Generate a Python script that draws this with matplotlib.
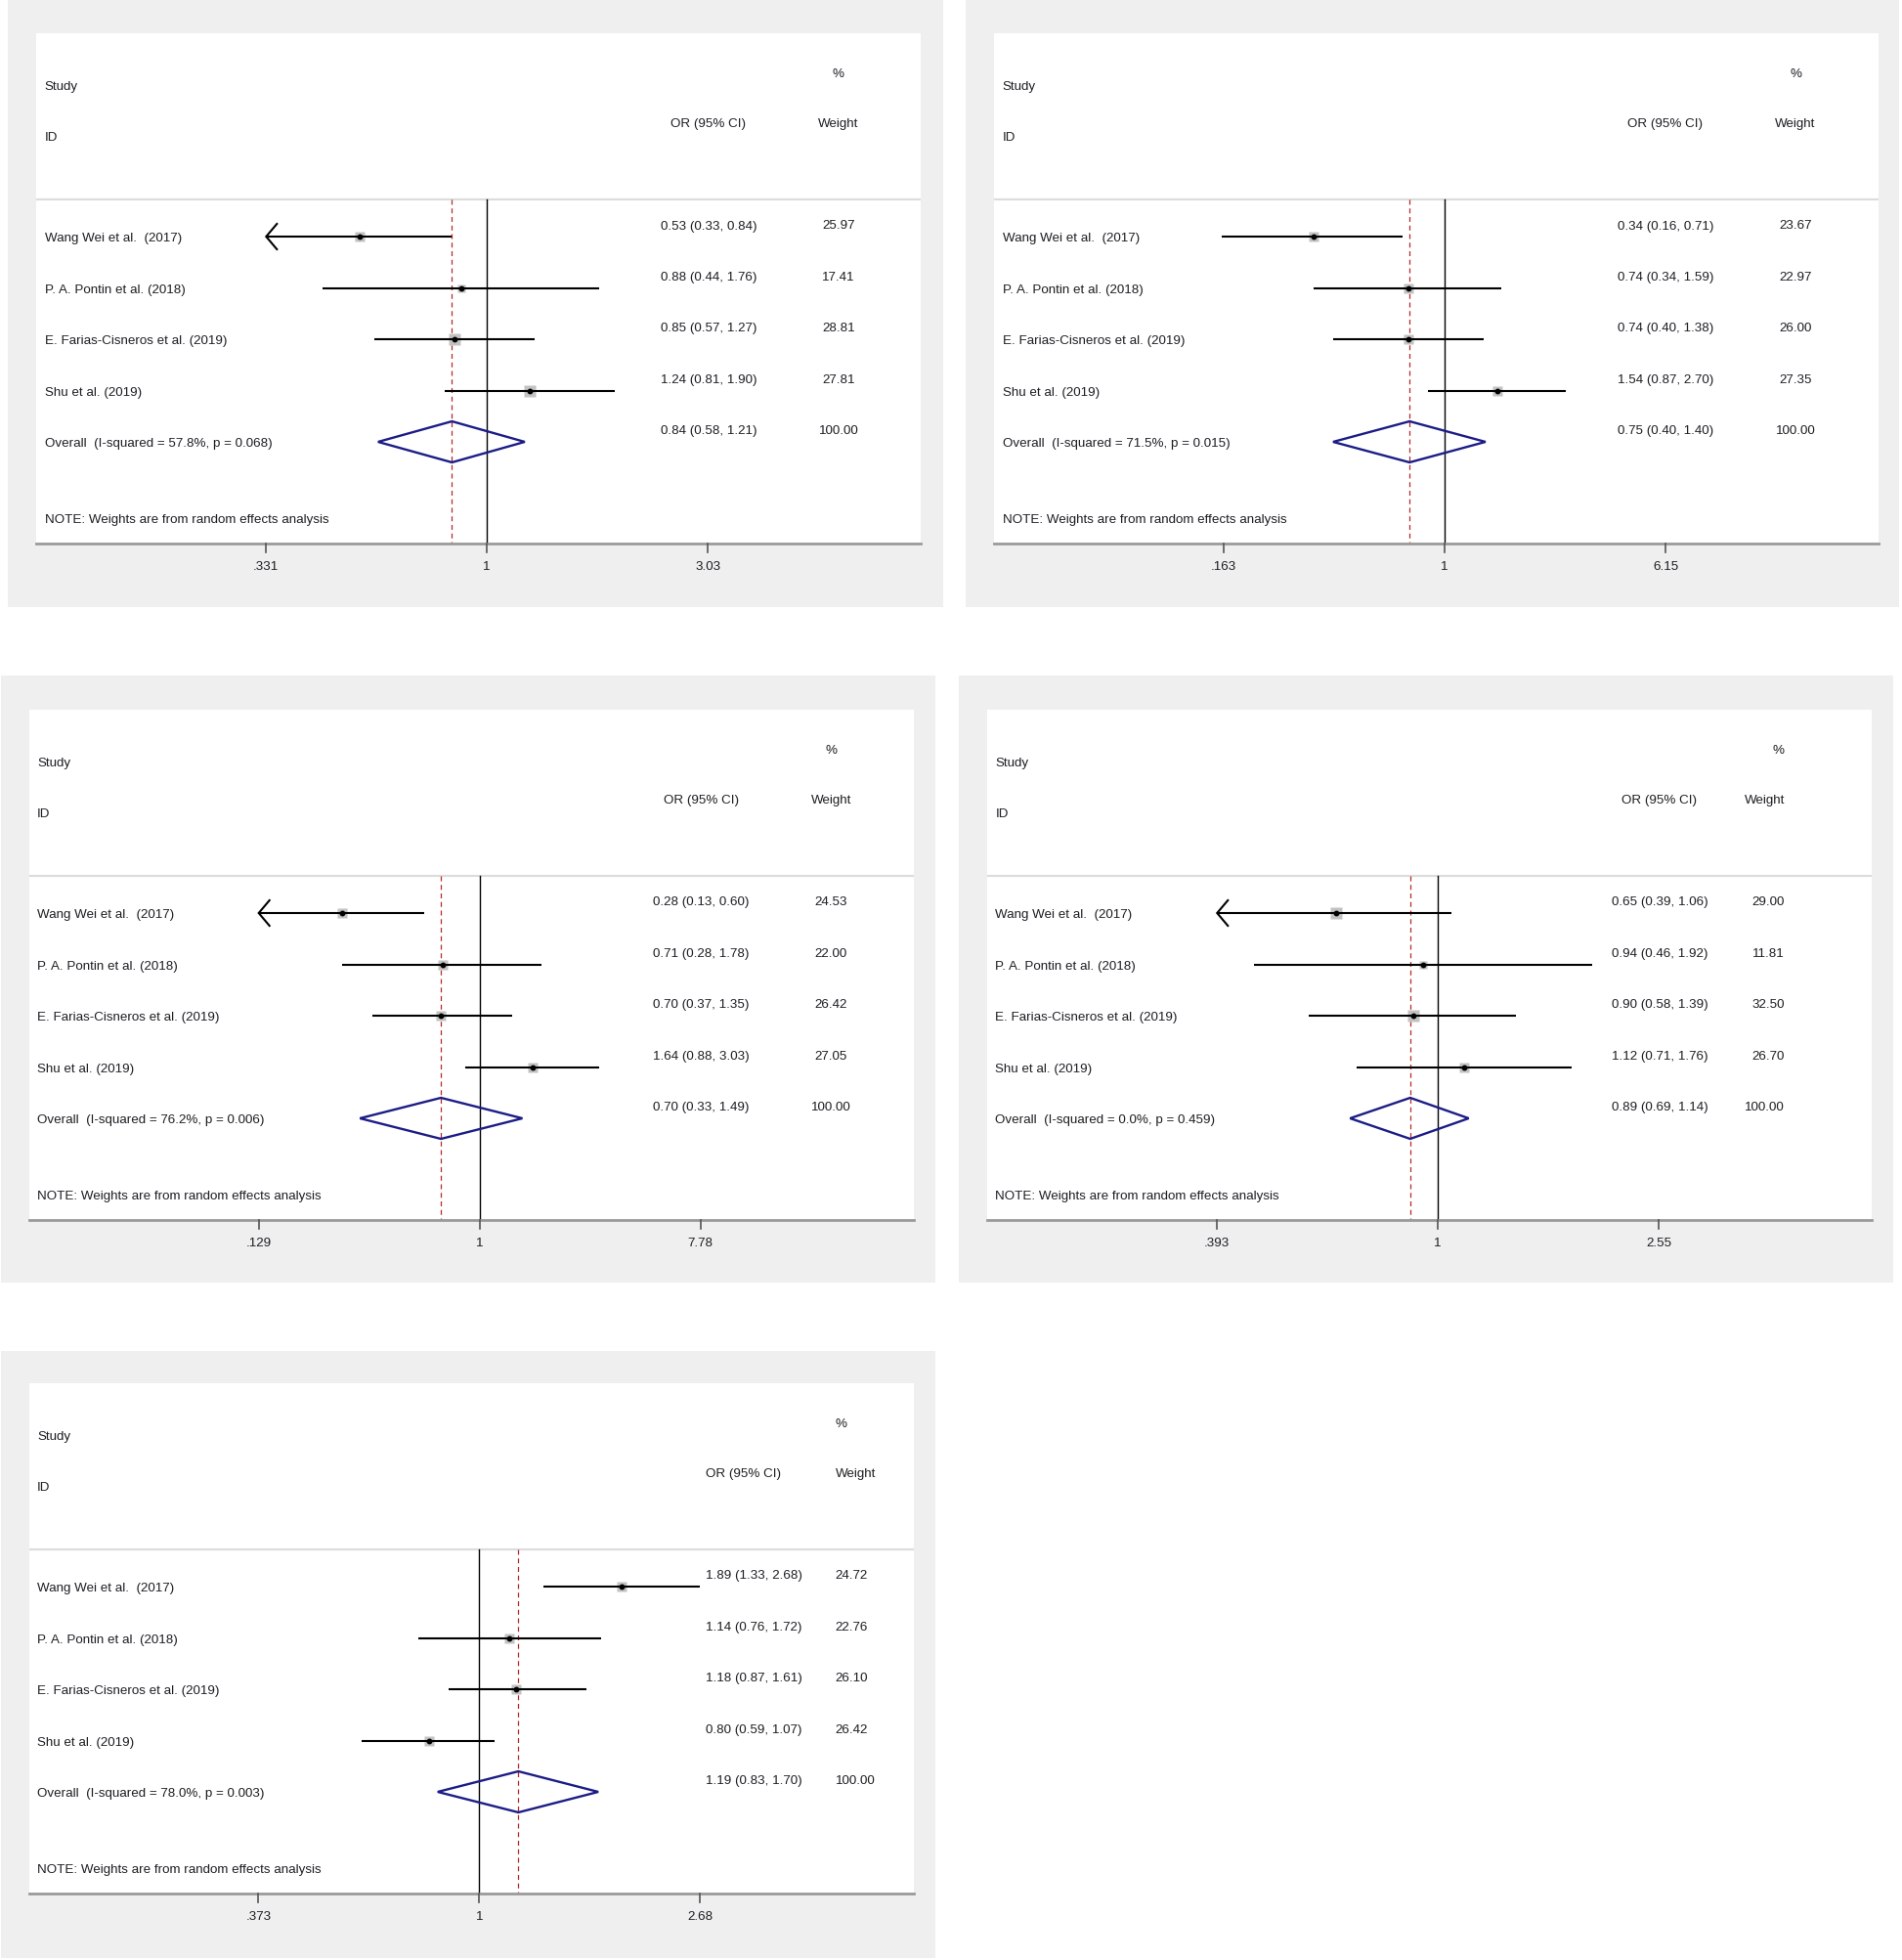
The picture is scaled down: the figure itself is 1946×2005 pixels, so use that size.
import numpy as np
import matplotlib
matplotlib.use("Agg")
import matplotlib.pyplot as plt
import matplotlib.transforms as mtrans
from matplotlib.patches import Polygon

plt.rcParams['font.family'] = ['Liberation Sans', 'DejaVu Sans']

# ---------------- data ----------------
studies = ["Wang Wei et al.  (2017)", "P. A. Pontin et al. (2018)",
           "E. Farias-Cisneros et al. (2019)", "Shu et al. (2019)"]

or_p1 = [0.53, 0.88, 0.85, 1.24]
lo_p1 = [0.33, 0.44, 0.57, 0.81]
hi_p1 = [0.84, 1.76, 1.27, 1.90]
wt_p1 = [25.97, 17.41, 28.81, 27.81]
ov_p1 = [0.84, 0.58, 1.21]
het_p1 = ["57.8%", "0.068"]
ticks_p1 = [0.331, 1, 3.03]
ticklab_p1 = [".331", "1", "3.03"]
clip_p1 = [True, False, False, False]

or_p2 = [0.34, 0.74, 0.74, 1.54]
lo_p2 = [0.16, 0.34, 0.40, 0.87]
hi_p2 = [0.71, 1.59, 1.38, 2.70]
wt_p2 = [23.67, 22.97, 26.00, 27.35]
ov_p2 = [0.75, 0.40, 1.40]
het_p2 = ["71.5%", "0.015"]
ticks_p2 = [0.163, 1, 6.15]
ticklab_p2 = [".163", "1", "6.15"]
clip_p2 = [False, False, False, False]

or_p3 = [0.28, 0.71, 0.70, 1.64]
lo_p3 = [0.13, 0.28, 0.37, 0.88]
hi_p3 = [0.60, 1.78, 1.35, 3.03]
wt_p3 = [24.53, 22.00, 26.42, 27.05]
ov_p3 = [0.70, 0.33, 1.49]
het_p3 = ["76.2%", "0.006"]
ticks_p3 = [0.129, 1, 7.78]
ticklab_p3 = [".129", "1", "7.78"]
clip_p3 = [True, False, False, False]

or_p4 = [0.65, 0.94, 0.90, 1.12]
lo_p4 = [0.39, 0.46, 0.58, 0.71]
hi_p4 = [1.06, 1.92, 1.39, 1.76]
wt_p4 = [29.00, 11.81, 32.50, 26.70]
ov_p4 = [0.89, 0.69, 1.14]
het_p4 = ["0.0%", "0.459"]
ticks_p4 = [0.393, 1, 2.55]
ticklab_p4 = [".393", "1", "2.55"]
clip_p4 = [True, False, False, False]

or_p5 = [1.89, 1.14, 1.18, 0.80]
lo_p5 = [1.33, 0.76, 0.87, 0.59]
hi_p5 = [2.68, 1.72, 1.61, 1.07]
wt_p5 = [24.72, 22.76, 26.10, 26.42]
ov_p5 = [1.19, 0.83, 1.70]
het_p5 = ["78.0%", "0.003"]
ticks_p5 = [0.373, 1, 2.68]
ticklab_p5 = [".373", "1", "2.68"]
clip_p5 = [False, False, False, False]

# ---------------- layout (pixels) ----------------
W, H, DPI = 1946, 2006, 100
WW, WH = 905, 522           # white plot region size
# (gray x0, gray y0, gray w, gray h, white x0, white y0, OR align, OR x, W align, W x)
layout = [
    (8, 1, 957, 621, 37, 35, 'center', 688, 'center', 821),
    (988, 1, 955, 621, 1017, 35, 'center', 687, 'center', 820),
    (1, 692, 956, 621, 29.5, 727, 'center', 688, 'center', 821),
    (981, 692, 956, 621, 1010, 727, 'center', 688, 'right', 816),
    (1, 1383, 956, 621, 29.5, 1416, 'left', 692, 'left', 825),
]
panels = [
    (or_p1, lo_p1, hi_p1, wt_p1, ov_p1, het_p1, ticks_p1, ticklab_p1, clip_p1),
    (or_p2, lo_p2, hi_p2, wt_p2, ov_p2, het_p2, ticks_p2, ticklab_p2, clip_p2),
    (or_p3, lo_p3, hi_p3, wt_p3, ov_p3, het_p3, ticks_p3, ticklab_p3, clip_p3),
    (or_p4, lo_p4, hi_p4, wt_p4, ov_p4, het_p4, ticks_p4, ticklab_p4, clip_p4),
    (or_p5, lo_p5, hi_p5, wt_p5, ov_p5, het_p5, ticks_p5, ticklab_p5, clip_p5),
]

FS = 9.6
TXT = '#1e1e24'
GRAY_BG = '#efefef'
DY = 1.5   # small downward nudge so glyphs sit like the reference

fig = plt.figure(figsize=(W / DPI, H / DPI), dpi=DPI)
fig.patch.set_facecolor('white')

ONE_X = 461      # offset of the OR=1 line from left edge of white region
TICK_OFF = 226   # px from the 1-line to outer ticks
ROW0, ROWSTEP = 208, 52.5
SEP_Y, AXIS_Y = 170, 522

for (gx, gy, gw, gh, wx, wy, or_al, or_x, w_al, w_x), pdata in zip(layout, panels):
    ors, los, his, wts, ov, het, ticks, ticklab, clips = pdata
    # gray panel background (its own axes, drawn below the plot axes)
    bg = fig.add_axes([gx / W, 1 - (gy + gh) / H, gw / W, gh / H], zorder=0)
    bg.set_facecolor(GRAY_BG)
    bg.set_xticks([]); bg.set_yticks([])
    for sp in bg.spines.values():
        sp.set_visible(False)

    ax = fig.add_axes([wx / W, 1 - (wy + WH) / H, WW / W, WH / H], zorder=1)
    ax.set_facecolor('white')
    for sp in ax.spines.values():
        sp.set_visible(False)
    ax.set_xscale('log')
    s = 2 * TICK_OFF / (np.log(ticks[2]) - np.log(ticks[0]))  # px per ln unit
    ax.set_xlim(np.exp(-ONE_X / s), np.exp((WW - ONE_X) / s))
    ax.set_ylim(WH, 0)
    ax.set_xticks([]); ax.set_xticks([], minor=True)
    ax.set_yticks([])
    tr = mtrans.blended_transform_factory(ax.transAxes, ax.transData)

    def txt(xfrac_px, y, s_, ha='left'):
        ax.text(xfrac_px / WW, y + DY, s_, transform=tr, fontsize=FS, color=TXT,
                ha=ha, va='center')

    # header
    txt(8.5, 52.5, "Study")
    txt(8.5, 104.5, "ID")
    txt(or_x, 90.5, "OR (95% CI)", or_al)
    txt(w_x, 39.5, "%", w_al)
    txt(w_x, 90.5, "Weight", w_al)

    ax.axhline(SEP_Y, color='#dcdcdc', lw=1.6, zorder=1)
    ax.axhline(AXIS_Y, color='#9a9a9a', lw=2.0, zorder=3, clip_on=False)

    # reference lines
    ax.plot([1, 1], [SEP_Y, AXIS_Y], color='black', lw=1.0, zorder=2)
    ax.plot([ov[0], ov[0]], [SEP_Y, AXIS_Y], color='#b22a2a', lw=0.9,
            ls=(0, (4, 3)), zorder=2)

    # studies
    for i in range(len(ors)):
        y = ROW0 + i * ROWSTEP
        left = ticks[0] if clips[i] else los[i]
        ax.plot([left, his[i]], [y, y], color='black', lw=1.5, zorder=4,
                solid_capstyle='butt')
        if clips[i]:
            xt = ticks[0] * np.exp(11 / s)
            ax.plot([xt, ticks[0], xt], [y - 13, y, y + 13], color='black', lw=1.5,
                    zorder=4, solid_joinstyle='miter')
        side = 2.1 * np.sqrt(wts[i])
        ax.plot([ors[i]], [y], marker='s', ms=side * 0.72, mfc='#c2c2c2',
                mec='none', zorder=3)
        ax.plot([ors[i]], [y], marker='o', ms=3.2, mfc='black', mec='black',
                zorder=5)
        txt(8.5, y, studies[i])
        txt(or_x, y - 13, f"{ors[i]:.2f} ({los[i]:.2f}, {his[i]:.2f})", or_al)
        txt(w_x, y - 13, f"{wts[i]:.2f}", w_al)

    # overall
    y = ROW0 + len(ors) * ROWSTEP
    dia = Polygon([[ov[1], y], [ov[0], y - 21], [ov[2], y], [ov[0], y + 21]],
                  closed=True, fill=False, edgecolor='#1c1c86', lw=1.7, zorder=5)
    ax.add_patch(dia)
    txt(8.5, y, f"Overall  (I-squared = {het[0]}, p = {het[1]})")
    txt(or_x, y - 13, f"{ov[0]:.2f} ({ov[1]:.2f}, {ov[2]:.2f})", or_al)
    txt(w_x, y - 13, f"{100:.2f}", w_al)

    txt(8.5, 496, "NOTE: Weights are from random effects analysis")

    # x-axis ticks
    for t, lab in zip(ticks, ticklab):
        ax.plot([t, t], [AXIS_Y, AXIS_Y + 9], color='#555555', lw=1.2,
                clip_on=False, zorder=3)
        ax.text(t, AXIS_Y + 22 + DY, lab, fontsize=FS, color=TXT, ha='center',
                va='center', clip_on=False)

fig.savefig("out.png", dpi=DPI, facecolor='white')
